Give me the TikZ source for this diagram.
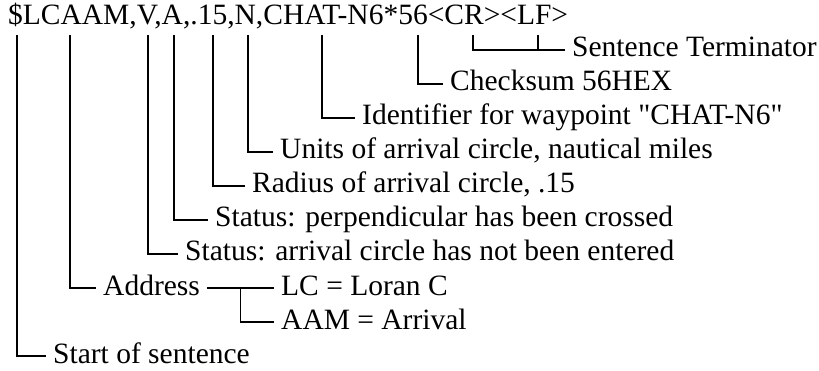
\documentclass[tikz,border=0pt]{standalone}
\usepackage{fontspec}
\setmainfont{Liberation Serif}[Ligatures=TeXOff]
\usetikzlibrary{calc}
\begin{document}
\begin{tikzpicture}[x=1pt, y=-1pt,
    lbl/.style={anchor=west, inner xsep=7pt, inner ysep=0pt, text height=20pt, text depth=6pt, font=\fontsize{29.5}{34}\selectfont},
    lead/.style={line width=1.8pt}]
  \useasboundingbox (0,0) rectangle (819,371);
  \node[lbl, anchor=base west, inner xsep=0pt] (msg) at (8,24.5) {\$LCAAM,V,A,.15,N,CHAT-N6*56<CR><LF>};
  % tap points under the sentence
  \foreach \n/\x in {dollar/17, addr/70, stv/148, sta/174, rad/213, unit/248, ident/322, cks/418, cr/473, lf/538}
    \coordinate (t\n) at (\x, 35);
  % labels, one row every 34pt
  \node[lbl] (term) at (565, 50) {Sentence Terminator};
  \node[lbl] (cks) at (443, 84) {Checksum 56HEX};
  \node[lbl] (ident) at (355, 118) {Identifier for waypoint "CHAT-N6"};
  \node[lbl] (unit) at (273, 152) {Units of arrival circle, nautical miles};
  \node[lbl] (rad) at (245, 186) {Radius of arrival circle, .15};
  \node[lbl] (sta) at (208, 220) {Status: perpendicular has been crossed};
  \node[lbl] (stv) at (178, 254) {Status: arrival circle has not been entered};
  \node[lbl] (addr) at (96, 288) {Address};
  \node[lbl] (lc) at (274, 288) {LC = Loran C};
  \node[lbl] (aam) at (274, 322) {AAM = Arrival};
  \node[lbl] (start) at (46, 356) {Start of sentence};
  % leaders
  \draw[lead] (tcr) |- (term.west);
  \draw[lead] (tlf) -- (tlf |- term.west);
  \draw[lead] (tcks) |- (cks.west);
  \draw[lead] (tident) |- (ident.west);
  \draw[lead] (tunit) |- (unit.west);
  \draw[lead] (trad) |- (rad.west);
  \draw[lead] (tsta) |- (sta.west);
  \draw[lead] (tstv) |- (stv.west);
  \draw[lead] (taddr) |- (addr.west);
  \draw[lead] (tdollar) |- (start.west);
  \coordinate (fork) at ($(addr.east)!0.5!(lc.west)$);
  \draw[lead] (addr.east) -- (lc.west);
  \draw[lead] (fork) |- (aam.west);
\end{tikzpicture}
\end{document}
